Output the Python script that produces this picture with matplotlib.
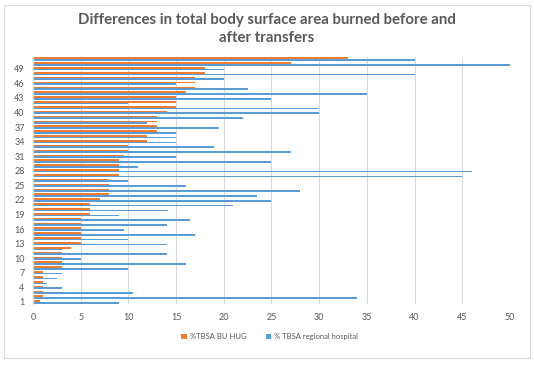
import matplotlib.pyplot as plt
from matplotlib.patches import Rectangle
import numpy as np

# patient index 1..51
patients = list(range(1, 52))
tbsa_hug = [0.75, 1, 1, 1, 1, 1, 1, 3, 3, 3,
            3, 4, 5, 5, 5, 5, 5, 5, 6, 6,
            6, 7, 8, 8, 8, 8, 9, 9, 9, 9,
            9.5, 10, 10, 12, 12, 13, 13, 13, 13, 14,
            15, 15, 15, 16, 17, 17, 17, 18, 18, 27,
            33]
tbsa_regional = [9, 34, 10.5, 3, 1.5, 2.5, 3, 10, 16, 5,
                 14, 3, 14, 10, 17, 9.5, 14, 16.5, 9, 14.2,
                 21, 25, 23.5, 28, 16, 10, 45, 46, 11, 25,
                 15, 27, 19, 15, 15, 15, 19.5, 12, 22, 30,
                 30, 10, 25, 35, 22.5, 15, 20, 40, 20, 50,
                 40]
ytick_labels = [str(i) for i in range(1, 52, 3)]

ORANGE = "#ED7D31"
BLUE = "#5B9BD5"
TEXT = "#595959"

plt.rcParams['font.family'] = ['Lato', 'DejaVu Sans']

fig = plt.figure(figsize=(5.34, 3.65), dpi=100)
ax = fig.add_axes([0.0618, 0.166, 0.8932, 0.679])

y = np.array(patients)
h = 0.34
ax.barh(y + 0.17, tbsa_hug, height=h, color=ORANGE, label="%TBSA BU HUG")
ax.barh(y - 0.17, tbsa_regional, height=h, color=BLUE, label="% TBSA regional hospital")

ax.set_xlim(0, 50)
ax.set_ylim(0.5, 51.5)
ax.set_xticks(range(0, 51, 5))
ax.set_yticks(range(1, 52, 3))
ax.set_yticklabels(ytick_labels)
ax.tick_params(length=0, labelsize=6.5, labelcolor=TEXT, pad=6)
ax.grid(axis='x', color='#D9D9D9', linewidth=0.8)
ax.set_axisbelow(True)
for s in ['top', 'right', 'bottom']:
    ax.spines[s].set_visible(False)
ax.spines['left'].set_color('#D9D9D9')

fig.text(0.5, 0.945, "Differences in total body surface area burned before and",
         ha='center', va='center', fontsize=10.8, fontweight='bold', color=TEXT)
fig.text(0.5, 0.895, "after transfers",
         ha='center', va='center', fontsize=10.8, fontweight='bold', color=TEXT)

fig.legend(loc='center', bbox_to_anchor=(0.505, 0.077), ncol=2, frameon=False,
           fontsize=5.5, labelcolor=TEXT, handlelength=0.7, handleheight=0.7,
           handletextpad=0.4, columnspacing=2.5)

fig.patches.append(Rectangle((0.007, 0.02), 0.986, 0.966, transform=fig.transFigure,
                             fill=False, edgecolor='#D9D9D9', linewidth=0.8))

fig.savefig("out.png", dpi=100)
